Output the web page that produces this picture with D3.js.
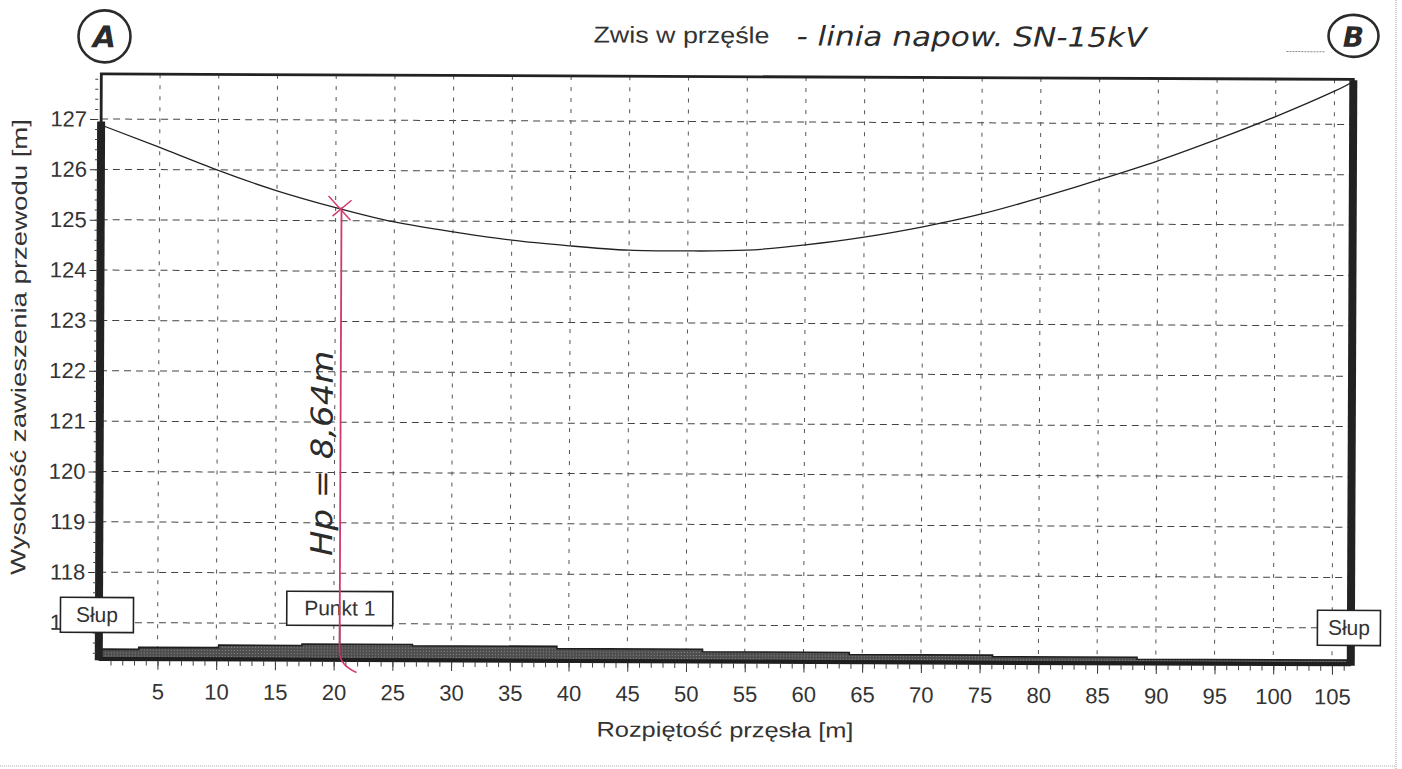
<!DOCTYPE html>
<html lang="pl">
<head>
<meta charset="UTF-8">
<title>Zwis w przęśle</title>
<script src="https://d3js.org/d3.v7.min.js"></script>
<style>
  body { margin: 0; background: #fff; }
  svg text { font-family: "Liberation Sans", Arial, sans-serif; fill: #333; }
  svg text.hand { font-family: "DejaVu Sans", sans-serif; font-style: italic; fill: #2b2b2b; }
</style>
</head>
<body>
<div id="chart"></div>
<script>
// span positions [m] and conductor height [m]
const spanX = [0, 5, 10, 15, 20, 25, 30, 35, 40, 45, 50, 55, 60, 65, 70, 75, 80, 85, 90, 95, 100, 105, 106.6];
const sagHeight = [126.88, 126.44, 125.99, 125.59, 125.26, 124.98, 124.79, 124.63, 124.52, 124.44, 124.43, 124.45,
                   124.56, 124.72, 124.93, 125.19, 125.52, 125.88, 126.26, 126.69, 127.15, 127.66, 127.86];
// terrain profile (stepped)
const groundFrom  = [0, 3.4, 10.2, 17.3, 26.7, 39.0, 51.4, 63.9, 76.1, 88.4];
const groundLevel = [116.47, 116.51, 116.56, 116.59, 116.565, 116.52, 116.47, 116.43, 116.40, 116.36];
// poles
const poleX = [0, 106.6];
const poleTop = [126.95, 127.88];
const spanEnd = 106.6;
const point1X = 20.5;

const xTicks = [5, 10, 15, 20, 25, 30, 35, 40, 45, 50, 55, 60, 65, 70, 75, 80, 85, 90, 95, 100, 105];
const yTicks = [117, 118, 119, 120, 121, 122, 123, 124, 125, 126, 127];

const width = 1402, height = 769;
const margin = { top: 76.5, right: 50, bottom: 108, left: 100 };

const svg = d3.select("#chart").append("svg")
    .attr("width", width)
    .attr("height", height);

// texture for the terrain band
const pat = svg.append("defs").append("pattern")
    .attr("id", "grain").attr("width", 3).attr("height", 3)
    .attr("patternUnits", "userSpaceOnUse");
pat.append("rect").attr("width", 3).attr("height", 3).attr("fill", "#4e4e4e");
pat.append("rect").attr("x", 1).attr("y", 1).attr("width", 1).attr("height", 1).attr("fill", "#8c8c8c");

// page edges of the scan
svg.append("line").attr("x1", 1396).attr("x2", 1396).attr("y1", 0).attr("y2", 769)
    .attr("stroke", "#999").attr("stroke-dasharray", "1,1");
svg.append("line").attr("x1", 0).attr("x2", 1396).attr("y1", 766).attr("y2", 766)
    .attr("stroke", "#aaa").attr("stroke-dasharray", "1,1");

// the scan is slightly tilted
const g = svg.append("g").attr("transform", "rotate(0.25,700,380)");

const x = d3.scaleLinear().domain([0, spanEnd]).range([margin.left, width - margin.right]);
const y = d3.scaleLinear().domain([116.287, 127.896]).range([height - margin.bottom, margin.top]);
const x0 = x.range()[0], x1 = x.range()[1];
const yBottom = y.range()[0], yTop = y.range()[1];

// grid
g.append("g").selectAll("line").data(yTicks).enter().append("line")
    .attr("x1", x0).attr("x2", x1)
    .attr("y1", d => y(d)).attr("y2", d => y(d))
    .attr("stroke", "#444").attr("stroke-width", 1).attr("stroke-dasharray", "7,5");
g.append("g").selectAll("line").data(xTicks).enter().append("line")
    .attr("x1", d => x(d)).attr("x2", d => x(d))
    .attr("y1", yTop).attr("y2", yBottom)
    .attr("stroke", "#555").attr("stroke-width", 1).attr("stroke-dasharray", "4,7");

// terrain
const ground = groundFrom.map((f, i) => ({ x: f, v: groundLevel[i] }));
ground.push({ x: spanEnd, v: groundLevel[groundLevel.length - 1] });
g.append("path")
    .datum(ground)
    .attr("d", d3.area().curve(d3.curveStepAfter).x(d => x(d.x)).y0(yBottom).y1(d => y(d.v)))
    .attr("fill", "url(#grain)")
    .attr("stroke", "#1e1e1e").attr("stroke-width", 1.6);

// conductor
g.append("path")
    .datum(spanX.map((s, i) => [s, sagHeight[i]]))
    .attr("d", d3.line().curve(d3.curveNatural).x(d => x(d[0])).y(d => y(d[1])))
    .attr("fill", "none").attr("stroke", "#222").attr("stroke-width", 1.3);

// frame
g.append("rect")
    .attr("x", x0).attr("y", yTop).attr("width", x1 - x0).attr("height", yBottom - yTop)
    .attr("fill", "none").attr("stroke", "#222").attr("stroke-width", 2.8);
g.append("line")
    .attr("x1", x0).attr("x2", x1).attr("y1", yBottom + 0.5).attr("y2", yBottom + 0.5)
    .attr("stroke", "#1e1e1e").attr("stroke-width", 4);

// poles
g.append("g").selectAll("rect").data(poleX).enter().append("rect")
    .attr("x", d => x(d) - 4).attr("width", 8)
    .attr("y", (d, i) => y(poleTop[i])).attr("height", (d, i) => yBottom + 2 - y(poleTop[i]))
    .attr("fill", "#222");

// axes
const yAxis = g.append("g")
    .attr("transform", `translate(${x0 - 3},0)`)
    .call(d3.axisLeft(y).tickValues(yTicks).tickFormat(d3.format("d")).tickSize(8).tickPadding(3));
yAxis.select(".domain").remove();
yAxis.selectAll("text").attr("font-size", "22px").attr("fill", "#333").attr("font-family", "Liberation Sans, Arial, sans-serif");
yAxis.selectAll("line").attr("stroke", "#333");
g.append("g").attr("transform", `translate(${x0 - 3},0)`)
    .call(d3.axisLeft(y).tickValues(d3.range(116.4, 127.9, 0.2)).tickFormat("").tickSize(3))
    .call(a => a.select(".domain").remove())
    .selectAll("line").attr("stroke", "#444");

const xAxis = g.append("g")
    .attr("transform", `translate(0,${yBottom + 2})`)
    .call(d3.axisBottom(x).tickValues(xTicks).tickSize(9).tickPadding(14));
xAxis.select(".domain").remove();
xAxis.selectAll("text").attr("font-size", "22px").attr("fill", "#333").attr("font-family", "Liberation Sans, Arial, sans-serif");
xAxis.selectAll("line").attr("stroke", "#333");
g.append("g").attr("transform", `translate(0,${yBottom + 2})`)
    .call(d3.axisBottom(x).tickValues(d3.range(1, 107, 1)).tickFormat("").tickSize(5))
    .call(a => a.select(".domain").remove())
    .selectAll("line").attr("stroke", "#444");

// axis titles
g.append("text")
    .attr("x", 598).attr("y", 737)
    .attr("font-size", "21px")
    .attr("textLength", 257).attr("lengthAdjust", "spacingAndGlyphs")
    .text("Rozpiętość przęsła [m]");
g.append("text")
    .attr("transform", "translate(26,350) rotate(-90)")
    .attr("text-anchor", "middle")
    .attr("font-size", "21px")
    .attr("textLength", 456).attr("lengthAdjust", "spacingAndGlyphs")
    .text("Wysokość zawieszenia przewodu [m]");

// title (printed part + handwritten part)
g.append("text")
    .attr("x", 592).attr("y", 43)
    .attr("font-size", "23px")
    .attr("textLength", 176).attr("lengthAdjust", "spacingAndGlyphs")
    .text("Zwis w przęśle");
g.append("text").attr("class", "hand")
    .attr("x", 795).attr("y", 45)
    .attr("font-size", "27px")
    .attr("textLength", 350).attr("lengthAdjust", "spacingAndGlyphs")
    .text("- linia napow. SN-15kV");

// label boxes
function labelBox(cx, cy, w, h, txt) {
    g.append("rect")
        .attr("x", cx - w / 2).attr("y", cy - h / 2).attr("width", w).attr("height", h)
        .attr("fill", "#fff").attr("stroke", "#222").attr("stroke-width", 1.6);
    g.append("text")
        .attr("x", cx).attr("y", cy + 7)
        .attr("text-anchor", "middle")
        .attr("font-size", "21px")
        .text(txt);
}

// Punkt 1 marker line
g.append("line")
    .attr("x1", x(point1X)).attr("x2", x(point1X))
    .attr("y1", y(117.2)).attr("y2", yBottom)
    .attr("stroke", "#222").attr("stroke-width", 1.5);

labelBox(x(0) - 2, y(117.15), 73, 35, "Słup");
labelBox(x(point1X), y(117.3), 106, 34, "Punkt 1");
labelBox(x(spanEnd) - 2, y(117.0), 63, 35, "Słup");

// handwritten annotation in red
const red = "#d2386c";
const px = x(point1X);
const pyCable = y(125.27);
g.append("line")
    .attr("x1", px).attr("x2", px)
    .attr("y1", pyCable).attr("y2", yBottom - 6)
    .attr("stroke", red).attr("stroke-width", 1.8);
g.append("path")
    .attr("d", `M${px},${yBottom - 6} Q${px + 1},${yBottom + 6} ${px + 17},${yBottom + 13}`)
    .attr("fill", "none").attr("stroke", red).attr("stroke-width", 1.5);
g.append("path")
    .attr("d", `M${px - 13},${pyCable - 11} L${px + 9},${pyCable + 13} M${px - 9},${pyCable + 9} L${px + 10},${pyCable - 7}`)
    .attr("fill", "none").attr("stroke", red).attr("stroke-width", 1.4);

g.append("text").attr("class", "hand")
    .attr("transform", `translate(${px - 8},455) rotate(-90)`)
    .attr("text-anchor", "middle")
    .attr("font-size", "30px")
    .attr("textLength", 205).attr("lengthAdjust", "spacingAndGlyphs")
    .text("Hp = 8,64m");

// circled end markers A and B
g.append("ellipse").attr("cx", 103).attr("cy", 39).attr("rx", 26).attr("ry", 26)
    .attr("fill", "none").attr("stroke", "#2b2b2b").attr("stroke-width", 2.6);
g.append("text").attr("class", "hand")
    .attr("x", 103).attr("y", 50).attr("text-anchor", "middle")
    .attr("font-size", "30px").attr("font-weight", "bold")
    .text("A");
g.append("ellipse").attr("cx", 1352).attr("cy", 33).attr("rx", 25).attr("ry", 21)
    .attr("fill", "none").attr("stroke", "#2b2b2b").attr("stroke-width", 2.6);
g.append("text").attr("class", "hand")
    .attr("x", 1352).attr("y", 44).attr("text-anchor", "middle")
    .attr("font-size", "28px").attr("font-weight", "bold")
    .text("B");
g.append("line").attr("x1", 1285).attr("x2", 1323).attr("y1", 49).attr("y2", 49)
    .attr("stroke", "#888").attr("stroke-width", 1).attr("stroke-dasharray", "2,1");
</script>
</body>
</html>
